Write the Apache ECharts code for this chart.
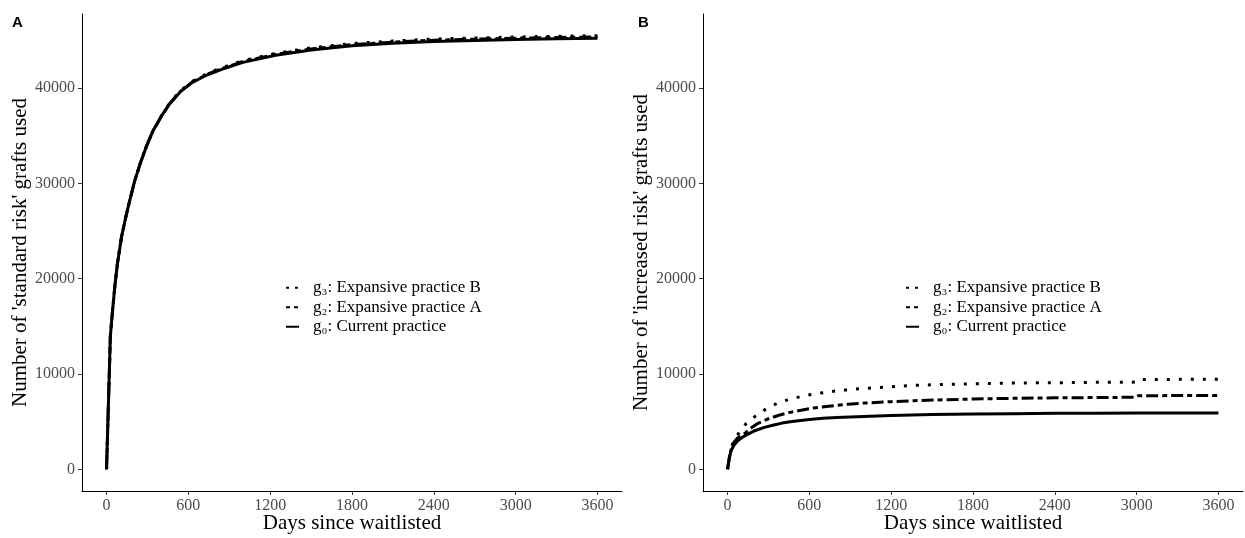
<!DOCTYPE html>
<html>
<head>
<meta charset="utf-8">
<script src="https://cdn.jsdelivr.net/npm/echarts@6/dist/echarts.min.js"></script>
<style>
html,body{margin:0;padding:0;background:#fff;}
#chart{width:1245px;height:538px;}
</style>
</head>
<body>
<div id="chart"></div>
<script>
// ---------- data ----------
const seriesNames = ['g\u2083: Expansive practice B', 'g\u2082: Expansive practice A', 'g\u2080: Current practice'];
const xTicks = [0, 600, 1200, 1800, 2400, 3000, 3600];
const yTicks = [0, 10000, 20000, 30000, 40000];

// Panel A: standard risk grafts
const daysA = [0, 28, 45, 60, 80, 110, 140, 170, 205, 245, 290, 340, 400, 460, 540, 630, 740, 850, 1000, 1240, 1500, 1800, 2100, 2400, 2700, 3000, 3300, 3600];
const stdG0 = [0, 14000, 16800, 19100, 21600, 24400, 26400, 28200, 30200, 32000, 33800, 35500, 37000, 38300, 39600, 40600, 41400, 42000, 42700, 43450, 44000, 44450, 44700, 44900, 45000, 45100, 45170, 45220];
const stdG2 = [0, 14000, 16800, 19100, 21600, 24400, 26400, 28200, 30200, 32000, 33800, 35500, 37000, 38300, 39630, 40650, 41465, 42080, 42790, 43550, 44110, 44570, 44825, 45030, 45135, 45240, 45315, 45370];
const stdG3 = [0, 14000, 16800, 19100, 21600, 24400, 26400, 28200, 30200, 32000, 33800, 35500, 37040, 38380, 39700, 40720, 41540, 42160, 42880, 43650, 44215, 44680, 44940, 45150, 45255, 45360, 45440, 45500];

// Panel B: increased risk grafts
const daysB0 = [0, 12, 25, 45, 75, 110, 150, 200, 270, 340, 400, 460, 520, 600, 700, 800, 900, 1050, 1200, 1500, 1800, 2100, 2400, 2700, 3000, 3300, 3600];
const incG0  = [0, 1100, 1900, 2500, 3000, 3380, 3700, 4050, 4400, 4650, 4850, 5000, 5100, 5230, 5350, 5430, 5500, 5580, 5650, 5740, 5800, 5840, 5870, 5890, 5900, 5910, 5920];
const daysB2 = [0, 12, 25, 40, 70, 125, 170, 220, 290, 370, 450, 520, 630, 760, 880, 1000, 1200, 1370, 1600, 1800, 2100, 2400, 2700, 2990, 3010, 3300, 3600];
const incG2  = [0, 1150, 2000, 2700, 3250, 3750, 4300, 4800, 5250, 5650, 5950, 6150, 6430, 6650, 6820, 6950, 7100, 7200, 7300, 7380, 7450, 7500, 7530, 7560, 7720, 7740, 7750];
const daysB3 = [0, 12, 25, 40, 64, 100, 137, 175, 210, 245, 285, 325, 370, 415, 460, 540, 630, 720, 810, 940, 1080, 1220, 1360, 1500, 1700, 1900, 2100, 2300, 2500, 2750, 2990, 3010, 3300, 3600];
const incG3  = [0, 1200, 2100, 2800, 3400, 4150, 4800, 5250, 5650, 6000, 6350, 6650, 6950, 7180, 7350, 7650, 7900, 8080, 8250, 8420, 8550, 8680, 8800, 8870, 8950, 9000, 9050, 9080, 9100, 9130, 9150, 9420, 9440, 9450];

// ---------- helpers ----------
const zip = (xs, ys) => xs.map((x, i) => [x, ys[i]]);
const SERIF = "'Liberation Serif', 'DejaVu Serif', serif";
const SANS = "'Liberation Sans', Arial, sans-serif";
const LW = 3;
const dotType = [3, 9];
const dashType = [12, 4, 5, 4];

function xAxis(gridIndex) {
  return {
    type: 'value', gridIndex, min: -180, max: 3780,
    name: 'Days since waitlisted', nameLocation: 'middle', nameGap: 22, nameMoveOverlap: false,
    nameTextStyle: {fontFamily: SERIF, fontSize: 21, color: '#000'},
    axisLine: {show: true, onZero: false, lineStyle: {color: '#000', width: 1}},
    axisTick: {show: true, length: 4, customValues: xTicks, lineStyle: {color: '#333'}},
    axisLabel: {show: true, customValues: xTicks, margin: 7, fontFamily: SERIF, fontSize: 16, color: '#4d4d4d', formatter: v => String(v)},
    splitLine: {show: false}
  };
}
function yAxis(gridIndex, name) {
  return {
    type: 'value', gridIndex, min: -2275, max: 47775,
    name, nameLocation: 'middle', nameGap: 51, nameMoveOverlap: false,
    nameTextStyle: {fontFamily: SERIF, fontSize: 21, color: '#000'},
    axisLine: {show: true, onZero: false, lineStyle: {color: '#000', width: 1}},
    axisTick: {show: true, length: 4, customValues: yTicks, lineStyle: {color: '#333'}},
    axisLabel: {show: true, customValues: yTicks, margin: 7, fontFamily: SERIF, fontSize: 16, color: '#4d4d4d', formatter: v => String(v)},
    splitLine: {show: false}
  };
}
function line(name, data, idx, type) {
  return {
    type: 'line', name, data, xAxisIndex: idx, yAxisIndex: idx,
    symbol: 'none', smooth: false, silent: true, color: '#000',
    itemStyle: {color: '#000'},
    lineStyle: {color: '#000', width: LW, type, cap: 'butt'}
  };
}
function legend(left) {
  return {
    orient: 'vertical', left, top: 278, padding: 0, itemWidth: 13, itemHeight: 10, itemGap: 0,
    selectedMode: false,
    itemStyle: {opacity: 0},
    textStyle: {fontFamily: SERIF, fontSize: 17, color: '#000', lineHeight: 19.5, padding: [0, 0, 0, 9]},
    data: [
      {name: seriesNames[0], lineStyle: {type: [3, 6], color: '#000'}, itemStyle: {opacity: 0}},
      {name: seriesNames[1], lineStyle: {type: [4, 4], color: '#000'}, itemStyle: {opacity: 0}},
      {name: seriesNames[2], lineStyle: {type: 'solid', color: '#000'}, itemStyle: {opacity: 0}}
    ]
  };
}

const option = {
  animation: false,
  backgroundColor: '#fff',
  title: [
    {text: 'A', left: 12, top: 15, padding: 0, textStyle: {fontFamily: SANS, fontWeight: 'bold', fontSize: 15, color: '#000'}},
    {text: 'B', left: 638, top: 15, padding: 0, textStyle: {fontFamily: SANS, fontWeight: 'bold', fontSize: 15, color: '#000'}}
  ],
  grid: [
    {left: 82, top: 14, width: 540, height: 477, containLabel: false, outerBoundsMode: 'none'},
    {left: 703, top: 14, width: 540, height: 477, containLabel: false, outerBoundsMode: 'none'}
  ],
  xAxis: [xAxis(0), xAxis(1)],
  yAxis: [yAxis(0, "Number of 'standard risk' grafts used"), yAxis(1, "Number of 'increased risk' grafts used")],
  legend: [legend(285), legend(905)],
  series: [
    line(seriesNames[2], zip(daysA, stdG0), 0, 'solid'),
    line(seriesNames[1], zip(daysA, stdG2), 0, dashType),
    line(seriesNames[0], zip(daysA, stdG3), 0, dotType),
    line(seriesNames[2], zip(daysB0, incG0), 1, 'solid'),
    line(seriesNames[1], zip(daysB2, incG2), 1, dashType),
    line(seriesNames[0], zip(daysB3, incG3), 1, dotType)
  ]
};

const chart = echarts.init(document.getElementById('chart'), null, {renderer: 'canvas'});
chart.setOption(option);
</script>
</body>
</html>
